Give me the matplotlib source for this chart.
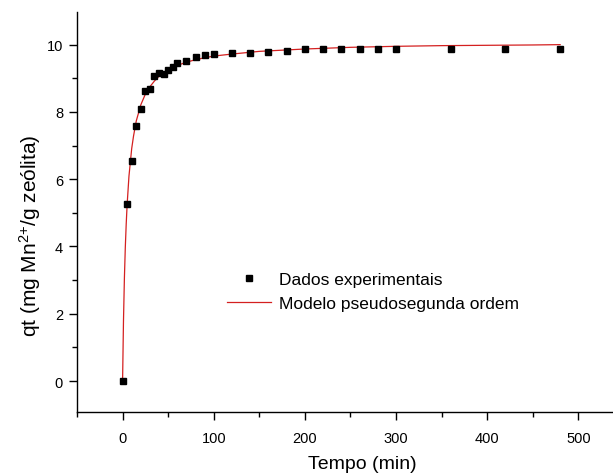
import matplotlib.pyplot as plt
from matplotlib.ticker import MultipleLocator

plt.rcParams['font.family'] = ['Liberation Sans', 'DejaVu Sans']
plt.rcParams['mathtext.fontset'] = 'custom'
plt.rcParams['mathtext.rm'] = 'Liberation Sans'
plt.rcParams['mathtext.it'] = 'Liberation Sans:italic'

# experimental points (time in min, qt in mg/g)
tempo = [0, 5, 10, 15, 20, 25, 30, 35, 40, 45, 50, 55, 60, 70, 80, 90, 100,
         120, 140, 160, 180, 200, 220, 240, 260, 280, 300, 360, 420, 480]
qt = [0.0, 5.25, 6.53, 7.59, 8.10, 8.61, 8.69, 9.08, 9.17, 9.14, 9.24, 9.33,
      9.45, 9.50, 9.62, 9.68, 9.73, 9.76, 9.76, 9.78, 9.82, 9.86, 9.86, 9.86,
      9.86, 9.86, 9.86, 9.86, 9.86, 9.86]

# pseudo-second order model curve
tempo_modelo = [0, 1, 2, 3, 4, 5, 7, 10, 12, 15, 20, 25, 30, 35, 40, 50, 60,
                70, 80, 90, 100, 120, 150, 200, 250, 300, 350, 400, 450, 480]
qt_modelo = [0.0, 1.80, 3.06, 3.98, 4.68, 5.25, 6.09, 6.91, 7.28, 7.73, 8.21,
             8.53, 8.75, 8.92, 9.06, 9.25, 9.38, 9.48, 9.55, 9.61, 9.66, 9.72,
             9.80, 9.87, 9.92, 9.95, 9.97, 9.98, 9.99, 10.00]

fig = plt.figure(figsize=(6.13, 4.77), dpi=100)
ax = fig.add_axes([77/613, 64/477, 536/613, 400/477])

ax.plot(tempo_modelo, qt_modelo, color='#d42020', lw=0.9,
        label='Modelo pseudosegunda ordem', zorder=2)
ax.plot(tempo, qt, 's', color='black', ms=4.2, ls='none',
        label='Dados experimentais', zorder=3)

ax.set_xlim(-50, 538)
ax.set_ylim(-0.92, 10.97)
ax.xaxis.set_major_locator(MultipleLocator(100))
ax.xaxis.set_minor_locator(MultipleLocator(50))
ax.yaxis.set_major_locator(MultipleLocator(2))
ax.yaxis.set_minor_locator(MultipleLocator(1))

for s in ['top', 'right']:
    ax.spines[s].set_visible(False)
for s in ['left', 'bottom']:
    ax.spines[s].set_linewidth(1.0)

ax.tick_params(which='major', direction='out', length=6, width=1.0,
               labelsize=10.5, pad=4)
ax.tick_params(which='minor', direction='out', length=3.5, width=1.0)
ax.tick_params(axis='x', which='major', pad=8)

ax.set_xlabel('Tempo (min)', fontsize=14)
ax.set_ylabel('qt (mg Mn$^{2{+}}$/g zeólita)', fontsize=15)
ax.xaxis.set_label_coords((362 - 77) / 536, -(456 - 413) / 400)
ax.yaxis.set_label_coords(-(77 - 43) / 536, (413 - 236) / 400)

handles, labels = ax.get_legend_handles_labels()
ax.legend(handles[::-1], labels[::-1], frameon=False, fontsize=12.5,
          loc='upper left', bbox_to_anchor=((227 - 77) / 536, (413 - 273) / 400),
          handlelength=2.55, handletextpad=0.45, labelspacing=0.5,
          borderaxespad=0, borderpad=0)

fig.savefig('out.png', dpi=100)
